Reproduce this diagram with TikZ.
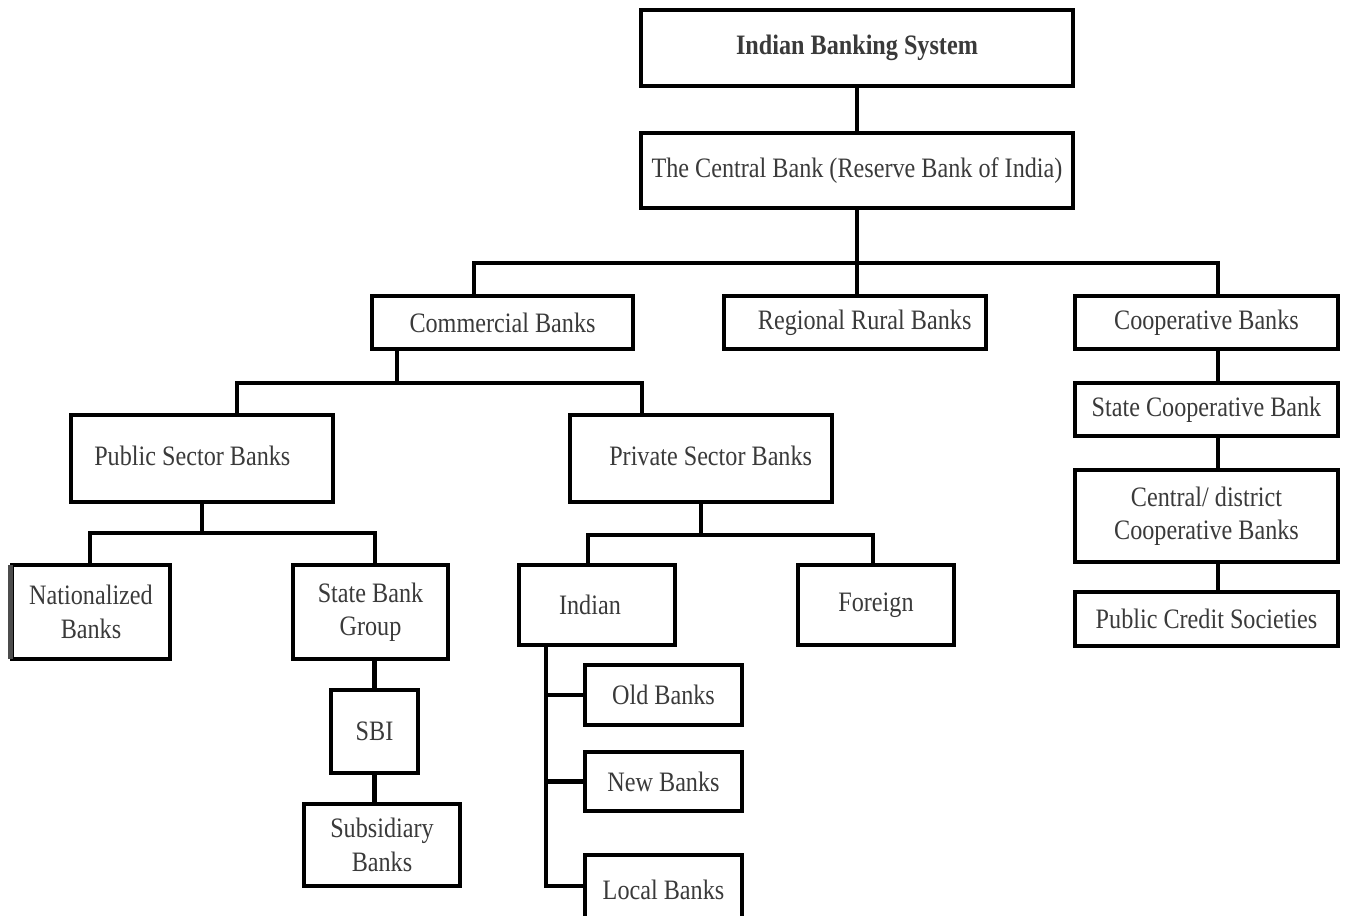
\documentclass[tikz,border=0pt]{standalone}
\usepackage{fontspec}
\setmainfont[FakeStretch=0.86]{Liberation Serif}
\usepackage{tikz}
\usepackage{xcolor}
\definecolor{boxtext}{HTML}{3A3A3A}
\tikzset{
    bankbox/.style = {draw=black, fill=white, line width=2.2pt, rectangle, inner sep=0pt, outer sep=0pt, align=center, text=boxtext, font=\fontsize{16}{19}\selectfont},
    wh/.style 2 args = {minimum width=#1*0.02cm, minimum height=#2*0.02cm},
    link/.style = {draw=black, line width=2.8pt},
}

\begin{document}
\begin{tikzpicture}[x=0.02cm, y=-0.02cm]
\clip (0,0) rectangle (1346,916);
\fill[white] (0,0) rectangle (1346,916);

% top levels
\node[bankbox, wh={432}{76}, font=\fontsize{16}{19}\selectfont\bfseries] (sys) at (857,48) {Indian Banking System};
\node[bankbox, wh={432}{75}] (rbi) at (857,170.5) {The Central Bank (Reserve Bank of India)};
\node[bankbox, wh={261}{53}] (comm) at (502.5,322.5) {Commercial Banks};
\node[bankbox, wh={262}{53}] (rrb) at (855,322.5) {\hspace{11pt}Regional Rural Banks};
\node[bankbox, wh={263}{53}] (coop) at (1206.5,322.5) {Cooperative Banks};

% cooperative side
\node[bankbox, wh={263}{53}] (scb) at (1206.5,409.5) {State Cooperative Bank};
\node[bankbox, wh={263}{92}] (cdcb) at (1206.5,516) {Central/ district\\Cooperative Banks};
\node[bankbox, wh={263}{54}] (pcs) at (1206.5,619) {Public Credit Societies};

% commercial side
\node[bankbox, wh={262}{87}] (psb) at (202,458.5) {\raisebox{3pt}{Public Sector Banks}\hspace{11pt}};
\node[bankbox, wh={262}{87}] (pvt) at (701,458.5) {\hspace{11pt}\raisebox{3pt}{Private Sector Banks}};
\node[bankbox, wh={158}{94}] (nat) at (91,612) {Nationalized\\Banks};
\node[bankbox, wh={155}{94}] (sbg) at (370.5,612) {State Bank\\Group};
\node[bankbox, wh={87}{83}] (sbi) at (374.5,731.5) {SBI};
\node[bankbox, wh={156}{82}] (sub) at (382,845) {Subsidiary\\Banks};
\node[bankbox, wh={156}{80}] (ind) at (597,605) {Indian\hspace{8pt}};
\node[bankbox, wh={156}{80}] (for) at (876,605) {Foreign};
\node[bankbox, wh={157}{60}] (old) at (663.5,695) {Old Banks};
\node[bankbox, wh={157}{59}] (new) at (663.5,781.5) {New Banks};
\node[bankbox, wh={157}{70}] (loc) at (663.5,890) {Local Banks};

% scan shadow on the left box
\draw[line width=3pt, black!70] ([xshift=-1pt]nat.north west) -- ([xshift=-1pt]nat.south west);

% bus points
\coordinate (cbL) at (474,263);
\coordinate (cbR) at (1218,263);
\coordinate (cmM) at (397,383);
\coordinate (cmL) at (237,383);
\coordinate (cmR) at (642,383);
\coordinate (psL) at (90,533);
\coordinate (psR) at (375,533);
\coordinate (pvL) at (588,535);
\coordinate (pvR) at (873,535);
\coordinate (trunk) at (546,886);
\coordinate (cpX) at (1218,0);

% connectors
\draw[link] (sys.south) -- (rbi.north);
\draw[link] (rbi.south) -- (rbi.south |- rrb.north);
\draw[link] (cbL |- comm.north) -- (cbL) -- (cbR) -- (cbR |- coop.north);
\draw[link] (cpX |- coop.south) -- (cpX |- scb.north);
\draw[link] (cpX |- scb.south) -- (cpX |- cdcb.north);
\draw[link] (cpX |- cdcb.south) -- (cpX |- pcs.north);
\draw[link] (cmM |- comm.south) -- (cmM);
\draw[link] (cmL |- psb.north) -- (cmL) -- (cmR) -- (cmR |- pvt.north);
\draw[link] (psb.south) -- (psb.south |- psL);
\draw[link] (psL |- nat.north) -- (psL) -- (psR) -- (psR |- sbg.north);
\draw[link] (sbi.north) -- (sbi.north |- sbg.south);
\draw[link] (sbi.south) -- (sbi.south |- sub.north);
\draw[link] (pvt.south) -- (pvt.south |- pvL);
\draw[link] (pvL |- ind.north) -- (pvL) -- (pvR) -- (pvR |- for.north);
\draw[link] (trunk |- ind.south) -- (trunk) -- (trunk -| loc.west);
\draw[link] (trunk |- old.west) -- (old.west);
\draw[link] (trunk |- new.west) -- (new.west);
\end{tikzpicture}
\end{document}
